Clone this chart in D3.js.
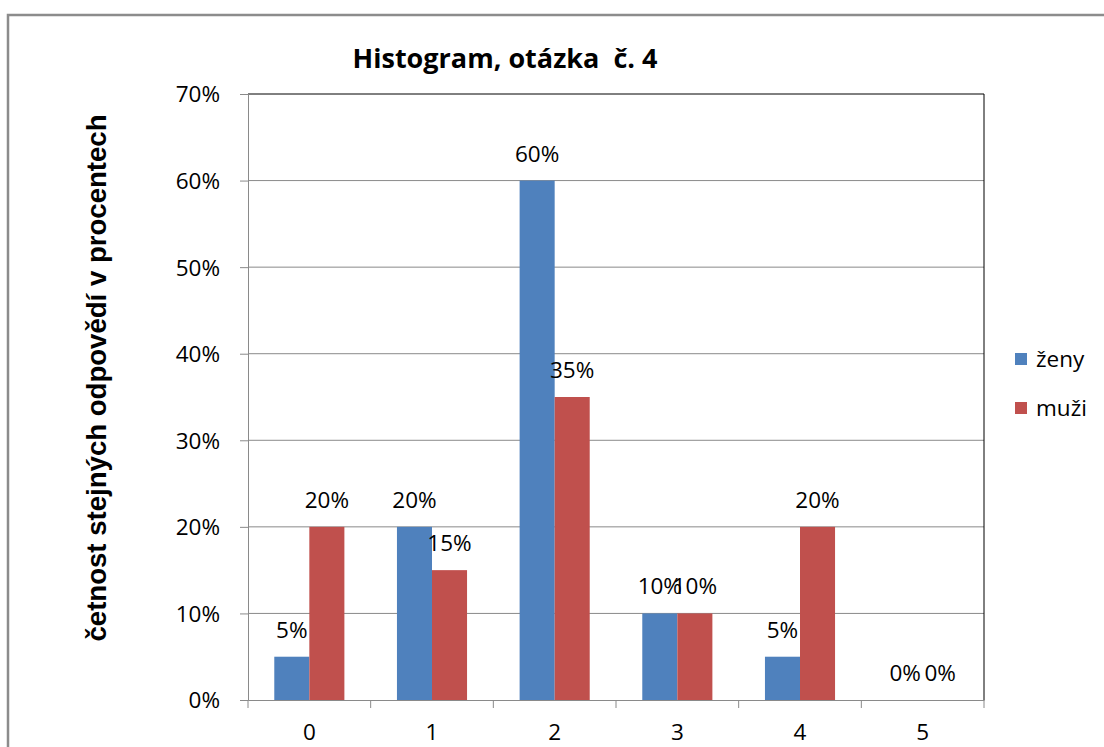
<!DOCTYPE html>
<html lang="cs">
<head>
  <meta charset="utf-8">
  <title>Histogram, otázka č. 4</title>
  <script src="https://d3js.org/d3.v7.min.js"></script>
  <style>
    body { margin: 0; background: #fff; }
    #chart text { font-family: "Open Sans", "Liberation Sans", sans-serif; fill: #000; }
  </style>
</head>
<body>
  <div id="chart"></div>
  <script>
    "use strict"
    // data
    var kategorie = ["0", "1", "2", "3", "4", "5"];
    var serie = ["ženy", "muži"];
    var zeny = [0.05, 0.20, 0.60, 0.10, 0.05, 0];
    var muzi = [0.20, 0.15, 0.35, 0.10, 0.20, 0];
    var ticksY = [0, 0.1, 0.2, 0.3, 0.4, 0.5, 0.6, 0.7];
    var barvy = ["#4F81BD", "#C0504D"];

    var sirka = 1104, vyska = 747;
    var plocha = {left: 248, right: 984, top: 94, bottom: 700};
    var pismo = "22.5px";

    var svg = d3.select("#chart").append("svg")
      .attr("width", sirka).attr("height", vyska);

    // vnější rámeček grafu
    svg.append("rect")
      .attr("x", 8).attr("y", 15)
      .attr("width", sirka + 20).attr("height", vyska + 20)
      .attr("fill", "none").attr("stroke", "#8c8c8c").attr("stroke-width", 2.5);

    var x = d3.scaleBand().domain(kategorie).range([plocha.left, plocha.right]);
    var xs = d3.scaleBand().domain(serie).range([0, x.bandwidth()]).paddingOuter(0.75);
    var y = d3.scaleLinear().domain([0, 0.7]).range([plocha.bottom, plocha.top]);
    var fmt = d3.format(".0%");

    // mřížka
    svg.append("g").selectAll("line")
      .data(ticksY.slice(1))
      .enter().append("line")
        .attr("x1", plocha.left).attr("x2", plocha.right)
        .attr("y1", d => y(d)).attr("y2", d => y(d))
        .attr("stroke", d => d === 0.7 ? "#000" : "#8a8a8a")
        .attr("stroke-width", 1);
    // pravý okraj plochy
    svg.append("line")
      .attr("x1", plocha.right).attr("x2", plocha.right)
      .attr("y1", plocha.top).attr("y2", plocha.bottom)
      .attr("stroke", "#000");

    // osa Y
    var osaY = svg.append("g")
      .attr("transform", "translate(" + plocha.left + ",0)")
      .call(d3.axisLeft(y).tickValues(ticksY).tickFormat(fmt).tickSize(8).tickPadding(20));
    osaY.select(".domain").attr("stroke", "#8a8a8a");
    osaY.selectAll(".tick line").attr("stroke", "#8a8a8a");
    osaY.selectAll("text").style("font-size", pismo).attr("dy", "0.35em");

    // sloupce
    var data = kategorie.map((k, i) => ({k: k, hodnoty: [zeny[i], muzi[i]]}));
    var skupiny = svg.append("g").selectAll("g")
      .data(data)
      .enter().append("g")
        .attr("transform", d => "translate(" + x(d.k) + ",0)");
    skupiny.selectAll("rect")
      .data(d => d.hodnoty.map((v, j) => ({s: serie[j], v: v, j: j})))
      .enter().append("rect")
        .attr("x", d => xs(d.s))
        .attr("width", xs.bandwidth())
        .attr("y", d => y(d.v))
        .attr("height", d => y(0) - y(d.v))
        .attr("fill", d => barvy[d.j]);
    skupiny.selectAll("text.popis")
      .data(d => d.hodnoty.map((v, j) => ({s: serie[j], v: v, j: j})))
      .enter().append("text")
        .attr("class", "popis")
        .attr("x", d => xs(d.s) + xs.bandwidth() / 2)
        .attr("y", d => y(d.v) - 19)
        .attr("text-anchor", "middle")
        .style("font-size", pismo)
        .text(d => fmt(d.v));

    // osa X
    var osaX = svg.append("g")
      .attr("transform", "translate(0," + plocha.bottom + ")")
      .call(d3.axisBottom(x).tickSize(0).tickPadding(24));
    osaX.select(".domain").attr("stroke", "#8a8a8a");
    osaX.selectAll("text").style("font-size", pismo);
    svg.append("g").selectAll("line")
      .data(kategorie.concat(["konec"]))
      .enter().append("line")
        .attr("x1", (d, i) => plocha.left + i * x.step())
        .attr("x2", (d, i) => plocha.left + i * x.step())
        .attr("y1", plocha.bottom).attr("y2", plocha.bottom + 8)
        .attr("stroke", "#8a8a8a");

    // titulek
    svg.append("text")
      .attr("x", 505).attr("y", 68)
      .attr("text-anchor", "middle")
      .style("font-size", "27px").style("font-weight", "bold")
      .attr("xml:space", "preserve")
      .text("Histogram, otázka  č. 4");

    // popis osy Y
    svg.append("text")
      .attr("transform", "translate(106,378) rotate(-90)")
      .attr("text-anchor", "middle")
      .attr("textLength", 527).attr("lengthAdjust", "spacingAndGlyphs")
      .style("font-family", "'Liberation Sans Narrow', 'Liberation Sans', Arial, sans-serif")
      .style("font-size", "27px").style("font-weight", "bold")
      .text("četnost stejných odpovědí v procentech");

    // legenda
    var legenda = svg.append("g").selectAll("g")
      .data(serie)
      .enter().append("g")
        .attr("transform", (d, i) => "translate(1015," + (353 + i * 49) + ")");
    legenda.append("rect")
      .attr("width", 12).attr("height", 12)
      .attr("fill", (d, i) => barvy[i]);
    legenda.append("text")
      .attr("x", 21).attr("y", 6).attr("dy", "0.35em")
      .style("font-size", pismo)
      .text(d => d);
  </script>
</body>
</html>
